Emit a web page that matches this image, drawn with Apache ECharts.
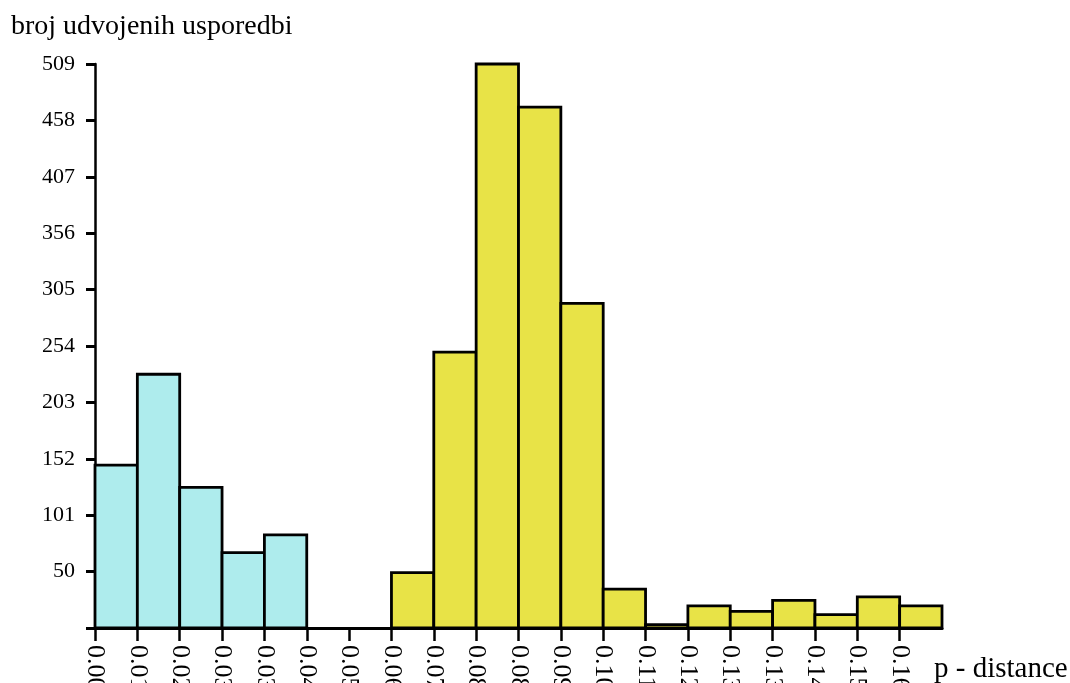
<!DOCTYPE html>
<html>
<head>
<meta charset="utf-8">
<script src="https://cdn.jsdelivr.net/npm/echarts@6/dist/echarts.min.js"></script>
<style>html,body{margin:0;padding:0;background:#fff;}#chart{width:1070px;height:683px;}</style>
</head>
<body>
<div id="chart"></div>
<script>
// Bin tick labels (left edge of each p-distance bin)
const binLabels = ['0.00','0.01','0.02','0.03','0.03','0.04','0.05','0.06','0.07','0.08',
                   '0.08','0.09','0.10','0.11','0.12','0.13','0.13','0.14','0.15','0.16'];
// Number of pairwise comparisons per bin
const counts = [147, 229, 127, 68, 84, 0, 0, 50, 249, 509,
                470, 293, 35, 3, 20, 15, 25, 12, 28, 20];
// Group of each bin: 0 = first (cyan) cluster, 1 = second (yellow) cluster
const binGroup = [0,0,0,0,0,1,1,1,1,1,1,1,1,1,1,1,1,1,1,1];
const yMax = 509;
const yStep = 50.9;

const groupColors = ['#aeeced', '#e8e347'];
const serif = '"Liberation Serif", "Times New Roman", serif';

function makeSeries(g) {
  return {
    type: 'custom',
    data: counts.map((c, i) => [i, c]).filter((d, i) => binGroup[i] === g),
    encode: { x: 0, y: 1 },
    renderItem: function (params, api) {
      const i = api.value(0), v = api.value(1);
      if (!v) return null;
      const p0 = api.coord([i, v]);
      const p1 = api.coord([i + 1, 0]);
      return {
        type: 'rect',
        shape: { x: p0[0], y: p0[1], width: p1[0] - p0[0], height: p1[1] - p0[1] },
        style: { fill: groupColors[g], stroke: '#000', lineWidth: 2.8 }
      };
    }
  };
}

const chart = echarts.init(document.getElementById('chart'));
chart.setOption({
  animation: false,
  title: {
    text: 'broj udvojenih usporedbi',
    left: 6, top: 8,
    textStyle: { fontFamily: serif, fontSize: 28, fontWeight: 'normal', color: '#000' }
  },
  grid: { left: 95, right: 128, top: 64, bottom: 55, containLabel: false, outerBoundsMode: 'none' },
  xAxis: {
    type: 'value', min: 0, max: binLabels.length, interval: 1,
    name: 'p - distance', nameLocation: 'end', nameGap: -8,
    nameTextStyle: { fontFamily: serif, fontSize: 29, color: '#000', align: 'left', verticalAlign: 'top', padding: [27, 0, 0, 0] },
    splitLine: { show: false },
    axisLine: { show: true, lineStyle: { color: '#000', width: 3 } },
    axisTick: { show: true, length: 13, lineStyle: { color: '#000', width: 2.5 },
                customValues: binLabels.map((l, i) => i) },
    axisLabel: {
      customValues: binLabels.map((l, i) => i),
      formatter: v => binLabels[Math.round(v)] || '',
      rotate: -90, margin: 17,
      fontFamily: serif, fontSize: 26, color: '#000'
    }
  },
  yAxis: {
    type: 'value', min: 0, max: yMax, interval: yStep,
    splitLine: { show: false },
    axisLine: { show: true, lineStyle: { color: '#000', width: 2.5 } },
    axisTick: { show: true, length: 9, lineStyle: { color: '#000', width: 3 } },
    axisLabel: {
      margin: 20,
      formatter: v => v < 1 ? '' : String(Math.floor(v + 1e-6)),
      fontFamily: serif, fontSize: 22, color: '#000'
    }
  },
  series: [makeSeries(0), makeSeries(1)]
});
</script>
</body>
</html>
